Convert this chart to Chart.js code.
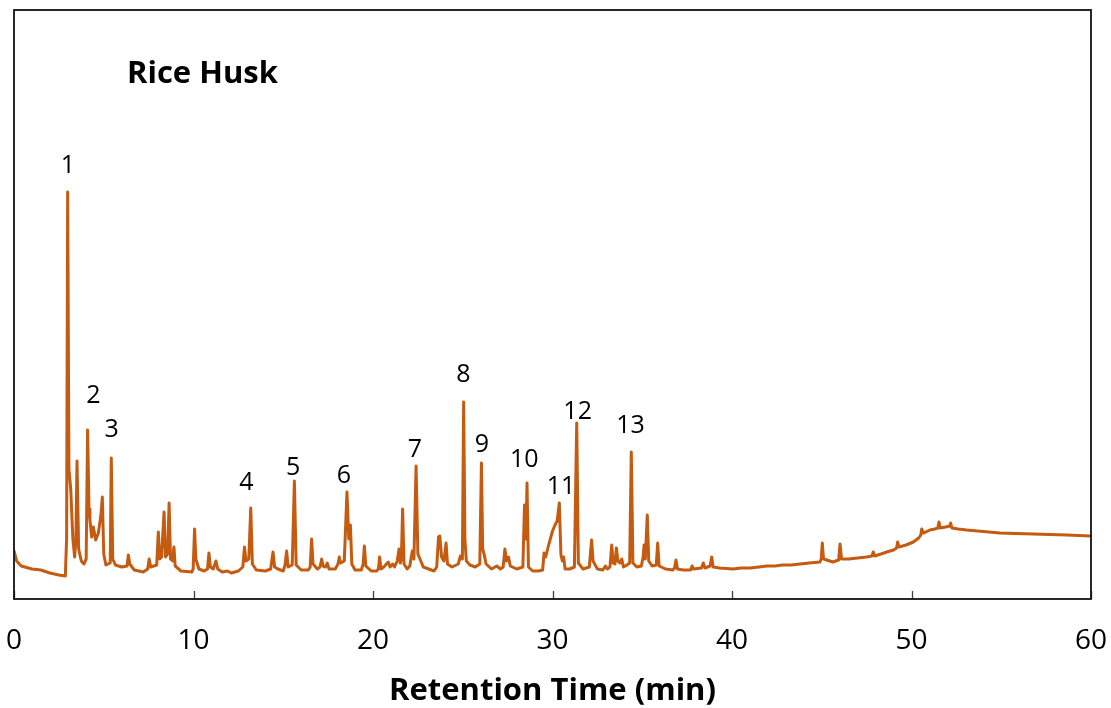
<!DOCTYPE html>
<html>
<head>
<meta charset="utf-8">
<script src="https://cdn.jsdelivr.net/npm/chart.js@4/dist/chart.umd.min.js"></script>
<style>
  html, body { margin: 0; padding: 0; background: #ffffff; }
  #wrap { width: 1111px; height: 708px; }
</style>
</head>
<body>
<div id="wrap"><canvas id="c" width="1111" height="708"></canvas></div>
<script>
const chartTitle = 'Rice Husk';
const xAxisTitle = 'Retention Time (min)';
const xTickValues = [0, 10, 20, 30, 40, 50, 60];
const xTickLabels = ['0', '10', '20', '30', '40', '50', '60'];

const retentionTime = [
  0, 0.15, 0.4, 1.0, 1.5, 2.0, 2.5, 2.86, 2.93, 2.99, 3.06, 3.16, 3.28, 3.38, 3.45, 3.51, 3.6, 3.75, 3.9,
  4.02, 4.1, 4.18, 4.23, 4.33, 4.42, 4.55, 4.7, 4.85, 4.92, 5.0, 5.12, 5.36, 5.42, 5.5, 5.65, 6.0, 6.3,
  6.37, 6.45, 6.7, 7.2, 7.45, 7.53, 7.62, 7.95, 8.04, 8.12, 8.22, 8.36, 8.44, 8.56, 8.64, 8.72, 8.84,
  8.91, 8.98, 9.3, 9.9, 9.98, 10.06, 10.13, 10.3, 10.6, 10.78, 10.86, 10.94, 11.1, 11.25, 11.35, 11.6,
  11.9, 12.1, 12.5, 12.75, 12.84, 12.92, 13.08, 13.19, 13.28, 13.5, 14.0, 14.3, 14.43, 14.52, 14.7,
  15.0, 15.1, 15.19, 15.27, 15.5, 15.62, 15.72, 16.0, 16.4, 16.5, 16.58, 16.66, 16.9, 17.05, 17.14,
  17.22, 17.35, 17.45, 17.55, 17.9, 18.05, 18.12, 18.2, 18.4, 18.55, 18.65, 18.74, 18.82, 19.0, 19.35,
  19.45, 19.52, 19.6, 19.9, 20.2, 20.3, 20.37, 20.45, 20.6, 20.85, 20.95, 21.1, 21.2, 21.35, 21.45,
  21.52, 21.58, 21.65, 21.73, 21.9, 22.05, 22.19, 22.28, 22.4, 22.5, 22.62, 22.8, 23.1, 23.4, 23.55,
  23.65, 23.72, 23.82, 23.95, 24.07, 24.15, 24.4, 24.75, 24.87, 24.98, 25.05, 25.12, 25.2, 25.4, 25.7,
  25.95, 26.04, 26.11, 26.2, 26.3, 26.6, 26.9, 27.1, 27.25, 27.35, 27.43, 27.55, 27.65, 28.0, 28.35,
  28.44, 28.52, 28.58, 28.66, 28.9, 29.2, 29.45, 29.53, 29.62, 29.8, 30.0, 30.14, 30.26, 30.38, 30.47,
  30.55, 30.62, 30.7, 30.95, 31.22, 31.35, 31.44, 31.7, 32.05, 32.18, 32.26, 32.5, 32.8, 32.95, 33.05,
  33.2, 33.3, 33.38, 33.48, 33.56, 33.64, 33.75, 33.86, 33.95, 34.15, 34.3, 34.39, 34.48, 34.7, 34.95,
  35.05, 35.1, 35.17, 35.28, 35.36, 35.55, 35.78, 35.86, 35.94, 36.3, 36.7, 36.8, 36.88, 36.96, 37.3,
  37.7, 37.78, 37.85, 38.3, 38.4, 38.5, 38.78, 38.87, 38.95, 39.3, 40.07, 40.5, 41.0, 41.5, 41.93, 42.4,
  42.8, 43.3, 43.79, 44.3, 44.9, 44.97, 45.03, 45.1, 45.62, 45.94, 46.02, 46.1, 46.5, 47.0, 47.5, 47.8,
  47.87, 47.95, 48.3, 48.62, 49.0, 49.17, 49.23, 49.3, 49.7, 50.1, 50.4, 50.52, 50.57, 50.65, 50.8,
  51.03, 51.3, 51.47, 51.53, 51.6, 51.9, 52.14, 52.18, 52.25, 52.6, 53.07, 54.0, 54.93, 55.8, 56.79,
  57.7, 58.64, 59.3, 60
];

const intensity = [
  48, 38, 33, 30, 29, 26, 24, 23, 60, 407, 130, 110, 60, 42, 60, 138, 50, 38, 35,
  40, 169, 90, 79, 62, 72, 59, 66, 85, 102, 45, 34, 36, 141, 40, 34, 32, 33,
  44, 35, 29, 27, 30, 40, 32, 34, 67, 40, 42, 87, 42, 45, 96, 40, 38,
  52, 33, 28, 27, 30, 70, 40, 30, 28, 30, 46, 32, 30, 38, 30, 27,
  28, 26, 28, 32, 52, 38, 40, 91, 35, 29, 28, 30, 47, 32, 30,
  28, 34, 48, 32, 34, 118, 34, 29, 29, 32, 60, 35, 30, 32, 40,
  33, 32, 36, 30, 30, 35, 42, 36, 38, 107, 60, 74, 35, 29, 29,
  35, 53, 33, 28, 28, 30, 42, 30, 32, 37, 32, 35, 32, 38, 50,
  36, 40, 90, 35, 30, 33, 48, 40, 133, 45, 40, 32, 30, 28, 32,
  62, 63, 42, 38, 56, 35, 32, 35, 43, 40, 197, 60, 38, 34, 32,
  35, 136, 50, 44, 35, 30, 33, 30, 32, 50, 38, 42, 33, 30, 32,
  94, 60, 116, 32, 28, 28, 29, 46, 42, 55, 68, 74, 78, 96, 44,
  38, 42, 30, 30, 32, 176, 36, 30, 32, 59, 38, 30, 29, 33, 30,
  32, 54, 36, 35, 51, 38, 36, 40, 32, 34, 36, 147, 36, 32, 33,
  42, 54, 40, 84, 38, 33, 34, 56, 33, 30, 29, 31, 39, 30, 29,
  29, 33, 30, 31, 36, 31, 33, 42, 32, 31, 30, 31, 31, 32, 33, 33,
  34, 34, 35, 36, 37, 40, 56, 40, 37, 39, 55, 40, 40, 41, 42, 43,
  47, 43, 45, 47, 49, 51, 57, 52, 54, 57, 61, 64, 70, 66, 67,
  69, 70, 71, 77, 71, 72, 73, 76, 71, 70, 69, 67.5, 66, 65.5, 65,
  64.5, 64, 63.5, 63
];

const peakNumbers = ['1', '2', '3', '4', '5', '6', '7', '8', '9', '10', '11', '12', '13'];
const peakLabelTime = [3.0, 4.42, 5.44, 12.95, 15.55, 18.38, 22.34, 25.03, 26.06, 28.43, 30.47, 31.4, 34.35];
const peakLabelLevel = [433, 203, 169, 116, 131, 123, 149, 224, 154, 139, 112, 187, 173];

const yMin = 0;
const yMax = 589;

const FONT = "'Open Sans', 'Noto Sans', sans-serif";

const points = retentionTime.map((t, i) => ({ x: t, y: intensity[i] }));

const framePlugin = {
  id: 'frame',
  afterDatasetsDraw(chart) {
    const { ctx, chartArea: a, scales } = chart;
    const xs = scales.x, ys = scales.y;
    ctx.save();
    // inside tick marks
    ctx.strokeStyle = '#404040';
    ctx.lineWidth = 1.3;
    xTickValues.forEach(v => {
      const px = Math.round(xs.getPixelForValue(v)) + 0.5;
      ctx.beginPath();
      ctx.moveTo(px, a.bottom);
      ctx.lineTo(px, a.bottom - 8);
      ctx.stroke();
    });
    // frame
    ctx.strokeStyle = '#111111';
    ctx.lineWidth = 1.8;
    ctx.strokeRect(a.left, a.top, a.right - a.left, a.bottom - a.top);
    // chart title inside plot
    ctx.fillStyle = '#000000';
    ctx.font = "bold 31px " + FONT;
    ctx.textAlign = 'left';
    ctx.textBaseline = 'alphabetic';
    ctx.fillText(chartTitle, a.left + 113, a.top + 73);
    // peak labels
    ctx.font = "25px " + FONT;
    ctx.textAlign = 'center';
    ctx.textBaseline = 'middle';
    peakNumbers.forEach((lab, i) => {
      ctx.fillText(lab, xs.getPixelForValue(peakLabelTime[i]), ys.getPixelForValue(peakLabelLevel[i]));
    });
    ctx.restore();
  }
};

new Chart(document.getElementById('c'), {
  type: 'line',
  data: {
    datasets: [{
      data: points,
      borderColor: '#C55A11',
      borderWidth: 3,
      borderJoinStyle: 'round',
      borderCapStyle: 'round',
      pointRadius: 0,
      tension: 0,
      fill: false
    }]
  },
  options: {
    responsive: false,
    animation: false,
    devicePixelRatio: 1,
    layout: { padding: { left: 14, right: 20, top: 10, bottom: 0 } },
    plugins: { legend: { display: false }, tooltip: { enabled: false }, title: { display: false } },
    scales: {
      x: {
        type: 'linear',
        min: 0,
        max: 60,
        grid: { display: false, drawTicks: false },
        border: { display: false },
        afterBuildTicks(scale) { scale.ticks = xTickValues.map(v => ({ value: v })); },
        afterFit(scale) {
          scale.height = 109;
          scale.paddingLeft = 0;
          scale.paddingRight = 0;
        },
        ticks: {
          padding: 25,
          maxRotation: 0,
          autoSkip: false,
          color: '#000000',
          font: { family: FONT, size: 28 },
          callback: (v) => xTickLabels[xTickValues.indexOf(v)]
        },
        title: {
          display: true,
          text: xAxisTitle,
          color: '#000000',
          font: { family: FONT, size: 31, weight: 'bold', lineHeight: 1 },
          padding: { top: 10, bottom: 1 }
        }
      },
      y: {
        display: false,
        min: yMin,
        max: yMax
      }
    }
  },
  plugins: [framePlugin]
});
</script>
</body>
</html>
